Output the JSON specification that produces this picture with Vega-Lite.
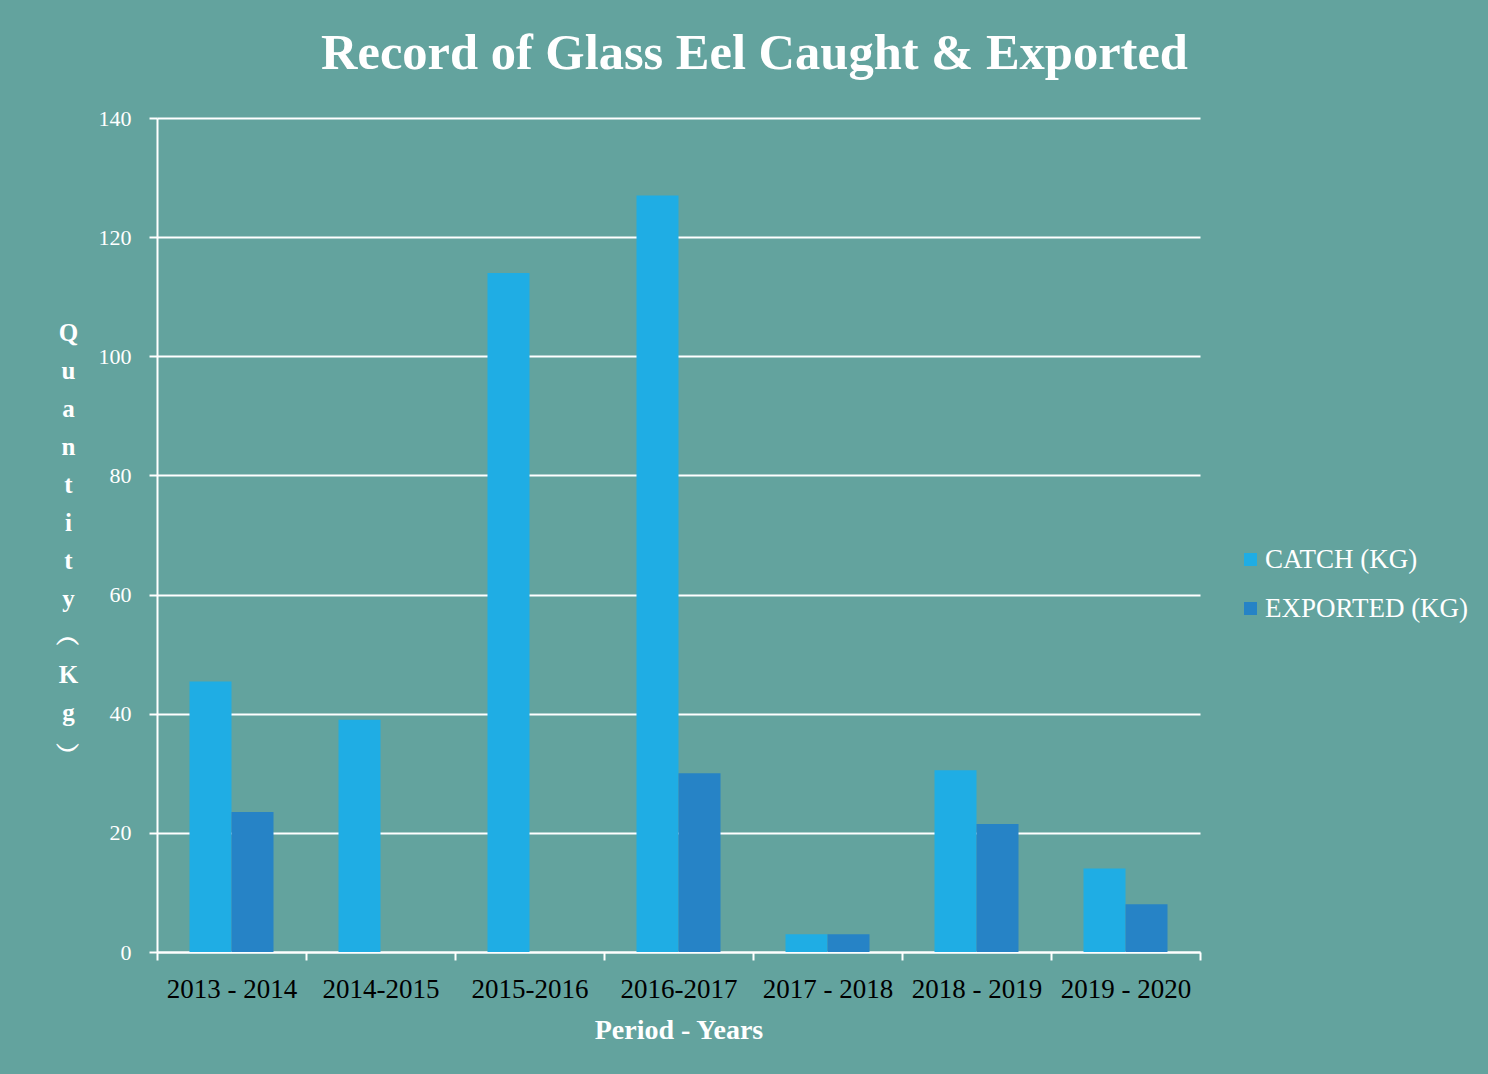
{
  "$schema": "https://vega.github.io/schema/vega-lite/v6.json",
  "width": 1043,
  "height": 834,
  "autosize": {"type": "none"},
  "padding": {"left": 157, "top": 118, "right": 288, "bottom": 122},
  "background": "#63A39E",
  "title": {
    "text": "Record of Glass Eel Caught & Exported",
    "anchor": "start",
    "frame": "group",
    "dx": 164,
    "dy": 58,
    "offset": 46,
    "baseline": "alphabetic",
    "font": "Liberation Serif",
    "fontSize": 50.5,
    "fontWeight": "bold",
    "color": "#FFFFFF"
  },
  "data": {
    "values": [
      {"period": "2013 - 2014", "series": "CATCH (KG)", "value": 45.4},
      {"period": "2013 - 2014", "series": "EXPORTED  (KG)", "value": 23.5},
      {"period": "2014-2015", "series": "CATCH (KG)", "value": 39},
      {"period": "2014-2015", "series": "EXPORTED  (KG)", "value": 0},
      {"period": "2015-2016", "series": "CATCH (KG)", "value": 114},
      {"period": "2015-2016", "series": "EXPORTED  (KG)", "value": 0},
      {"period": "2016-2017", "series": "CATCH (KG)", "value": 127},
      {"period": "2016-2017", "series": "EXPORTED  (KG)", "value": 30},
      {"period": "2017 - 2018", "series": "CATCH (KG)", "value": 3},
      {"period": "2017 - 2018", "series": "EXPORTED  (KG)", "value": 3},
      {"period": "2018 - 2019", "series": "CATCH (KG)", "value": 30.5},
      {"period": "2018 - 2019", "series": "EXPORTED  (KG)", "value": 21.5},
      {"period": "2019 - 2020", "series": "CATCH (KG)", "value": 14},
      {"period": "2019 - 2020", "series": "EXPORTED  (KG)", "value": 8}
    ]
  },
  "mark": {"type": "bar"},
  "encoding": {
    "x": {
      "field": "period",
      "type": "nominal",
      "sort": null,
      "scale": {"paddingInner": 0, "paddingOuter": 0},
      "axis": {
        "title": "Period - Years",
        "titleFont": "Liberation Serif",
        "titleFontSize": 28,
        "titleFontWeight": "bold",
        "titleColor": "#FFFFFF",
        "titlePadding": 14,
        "labelAngle": 0,
        "labelFont": "Liberation Serif",
        "labelFontSize": 27,
        "labelColor": "#000000",
        "labelPadding": 16,
        "tickBand": "extent",
        "tickColor": "#FFFFFF",
        "tickSize": 8,
        "tickWidth": 2,
        "domainColor": "#FFFFFF",
        "domainWidth": 2,
        "grid": false
      }
    },
    "xOffset": {
      "field": "series",
      "type": "nominal",
      "scale": {"paddingInner": 0, "paddingOuter": 0.774}
    },
    "y": {
      "field": "value",
      "type": "quantitative",
      "scale": {"domain": [0, 140], "nice": false},
      "axis": {
        "values": [0, 20, 40, 60, 80, 100, 120, 140],
        "title": ["Q", "u", "a", "n", "t", "i", "t", "y", "︵", "K", "g", "︶"],
        "titleAngle": 0,
        "titleAlign": "center",
        "titleBaseline": "top",
        "titleX": -89,
        "titleY": 202,
        "titleLineHeight": 38,
        "titleFont": "Liberation Serif",
        "titleFontSize": 25,
        "titleFontWeight": "bold",
        "titleColor": "#FFFFFF",
        "labelFont": "Liberation Serif",
        "labelFontSize": 22,
        "labelColor": "#FFFFFF",
        "labelPadding": 18,
        "tickColor": "#FFFFFF",
        "tickSize": 8,
        "tickWidth": 2,
        "domainColor": "#FFFFFF",
        "domainWidth": 2,
        "grid": true,
        "gridColor": "#FFFFFF",
        "gridWidth": 2,
        "gridOpacity": 1
      }
    },
    "color": {
      "field": "series",
      "type": "nominal",
      "scale": {"domain": ["CATCH (KG)", "EXPORTED  (KG)"], "range": ["#1FADE4", "#2683C6"]},
      "legend": {
        "title": null,
        "orient": "none",
        "legendX": 1080,
        "legendY": 428,
        "symbolType": "square",
        "symbolSize": 170,
        "symbolStrokeWidth": 0,
        "symbolOpacity": 1,
        "labelFont": "Liberation Serif",
        "labelFontSize": 27,
        "labelColor": "#FFFFFF",
        "labelOffset": 1,
        "labelLimit": 400,
        "rowPadding": 21
      }
    }
  },
  "config": {
    "view": {"stroke": null},
    "axis": {"labelOverlap": false}
  }
}
